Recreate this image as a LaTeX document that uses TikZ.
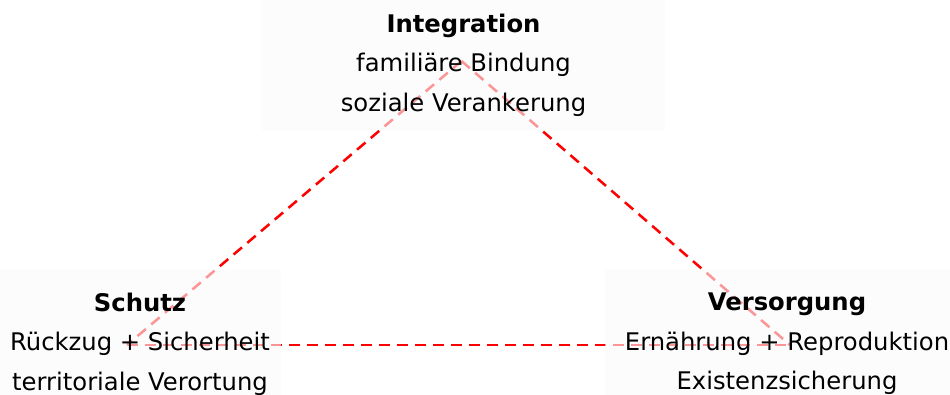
\documentclass[tikz,border=0pt]{standalone}
\usepackage{fontspec}
\setmainfont{DejaVu Sans}
\usetikzlibrary{backgrounds}
\begin{document}
\begin{tikzpicture}[x=0.75pt,y=-0.75pt]
      \tikzset{pillar/.style={fill=black!2, fill opacity=0.6, text opacity=1, align=center, inner sep=0pt, font=\fontsize{18.2}{29.5}\selectfont}}
    \useasboundingbox (0,0) rectangle (950,394);
    \node[pillar, minimum width=302pt, minimum height=97.5pt] at (463.5,65) (integration) {\textbf{Integration}\\familiäre Bindung\\soziale Verankerung};
    \node[pillar, minimum width=212pt, minimum height=111pt] at (140,344) (schutz) {\textbf{Schutz}\\Rückzug + Sicherheit\\territoriale Verortung};
    \node[pillar, minimum width=273pt, minimum height=111pt] at (787,344) (versorgung) {\textbf{Versorgung}\\Ernährung + Reproduktion\\Existenzsicherung};

    \begin{scope}[on background layer]
    	\path[red, line width=1.9pt, dash pattern=on 8.25pt off 5.25pt] ([shift={(-2,-4)}]integration.center) edge ([shift={(-13,1)}]schutz.center);
    	\path[red, line width=1.9pt, dash pattern=on 8.25pt off 5.25pt] ([shift={(-2,-4)}]integration.center) edge ([shift={(3,1)}]versorgung.center);
    	\path[red, line width=1.9pt, dash pattern=on 8.25pt off 5.25pt] ([shift={(-13,1)}]schutz.center) edge ([shift={(3,1)}]versorgung.center);
    \end{scope}
  \end{tikzpicture}
\end{document}
